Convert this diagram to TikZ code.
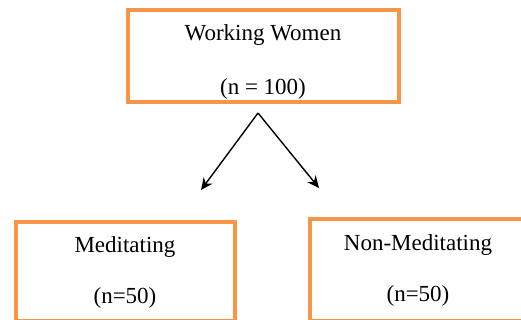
\documentclass[tikz,border=0pt]{standalone}
\usepackage{fontspec}
\setmainfont{Liberation Serif}
\usetikzlibrary{arrows.meta}
\definecolor{boxorange}{HTML}{F79646}
\begin{document}
\begin{tikzpicture}[x=1pt,y=-1pt,
  box/.style={draw=boxorange,line width=4pt,rectangle,inner sep=0pt},
  lbl/.style={anchor=base,inner sep=0pt,font=\fontsize{23}{27}\selectfont},
  arr/.style={line width=1.4pt,-{Stealth[length=12pt,width=11pt]}}]
\useasboundingbox (0,0) rectangle (521,320);
\begin{scope}
\clip (0,0) rectangle (521,320);
\node[box,minimum width=271pt,minimum height=91.5pt] (top) at (263.5,56.25) {};
\node[box,minimum width=218.5pt,minimum height=99pt] (left) at (125.25,271.5) {};
\node[box,minimum width=230pt,minimum height=102pt] (right) at (425,270) {};
\end{scope}
\node[lbl] (t1) at (263,41) {Working Women};
\node[lbl] (t2) at (263,95) {(n = 100)};
\node[lbl] (l1) at (125,252) {Meditating};
\node[lbl] (l2) at (125,303.5) {(n=50)};
\node[lbl] (r1) at (418,250) {Non-Meditating};
\node[lbl] (r2) at (418,301.5) {(n=50)};
\coordinate (apex) at (258,113);
\coordinate (ltip) at (201,190);
\coordinate (rtip) at (319,188);
\draw[arr] (apex) -- (ltip);
\draw[arr] (apex) -- (rtip);
\end{tikzpicture}
\end{document}
